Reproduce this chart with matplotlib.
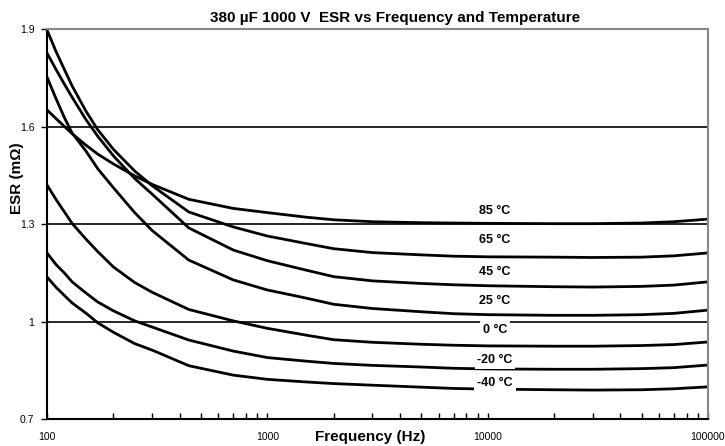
import numpy as np
import matplotlib
matplotlib.use('Agg')
import matplotlib.pyplot as plt
from matplotlib.ticker import LogLocator, FixedLocator, NullFormatter

plt.rcParams['font.family'] = ['Liberation Sans', 'DejaVu Sans']

#%% data
freq = [100, 110, 120, 130, 150, 170, 200, 250, 300, 440, 700, 1000, 1500, 2000,
        3000, 5000, 7000, 10000, 20000, 30000, 50000, 70000, 100000]

esr_85 = [1.651, 1.624, 1.600, 1.578, 1.543, 1.515, 1.485, 1.448, 1.422, 1.376, 1.348, 1.335,
          1.321, 1.313, 1.307, 1.304, 1.303, 1.302, 1.301, 1.301, 1.303, 1.307, 1.315]
esr_65 = [1.897, 1.830, 1.775, 1.725, 1.648, 1.590, 1.530, 1.463, 1.418, 1.337, 1.291, 1.263,
          1.240, 1.224, 1.212, 1.205, 1.201, 1.199, 1.198, 1.197, 1.198, 1.202, 1.211]
esr_45 = [1.826, 1.775, 1.730, 1.690, 1.622, 1.570, 1.510, 1.440, 1.392, 1.288, 1.220, 1.187,
          1.158, 1.138, 1.125, 1.117, 1.113, 1.110, 1.107, 1.106, 1.108, 1.112, 1.122]
esr_25 = [1.752, 1.685, 1.627, 1.580, 1.525, 1.470, 1.412, 1.335, 1.280, 1.189, 1.128, 1.097,
          1.072, 1.053, 1.040, 1.030, 1.024, 1.021, 1.019, 1.019, 1.021, 1.025, 1.035]
esr_0 = [1.420, 1.375, 1.337, 1.302, 1.254, 1.215, 1.168, 1.120, 1.090, 1.037, 1.002, 0.979,
         0.958, 0.944, 0.936, 0.930, 0.927, 0.925, 0.924, 0.924, 0.926, 0.929, 0.937]
esr_m20 = [1.211, 1.175, 1.149, 1.122, 1.088, 1.060, 1.033, 1.002, 0.983, 0.943, 0.909, 0.889,
           0.878, 0.871, 0.865, 0.860, 0.856, 0.854, 0.853, 0.853, 0.855, 0.858, 0.866]
esr_m40 = [1.137, 1.105, 1.080, 1.057, 1.026, 0.996, 0.967, 0.932, 0.912, 0.864, 0.835, 0.822,
           0.814, 0.809, 0.804, 0.798, 0.794, 0.792, 0.790, 0.789, 0.790, 0.793, 0.799]

curves = [esr_85, esr_65, esr_45, esr_25, esr_0, esr_m20, esr_m40]
labels = ['85 °C', '65 °C', '45 °C', '25 °C', '0 °C', '-20 °C', '-40 °C']
label_y = [1.340, 1.251, 1.152, 1.063, 0.974, 0.882, 0.811]
label_f = 10800

y_ticks = [0.7, 1.0, 1.3, 1.6, 1.9]
y_tick_labels = ['0.7', '1', '1.3', '1.6', '1.9']
x_ticks = [100, 1000, 10000, 100000]
x_tick_labels = ['100', '1000', '10000', '100000']

#%% figure
fig = plt.figure(figsize=(7.25, 4.46), dpi=100)
ax = fig.add_axes([47/725, 1-419/446, (708-47)/725, (419-29)/446])

for yv in [1.0, 1.3, 1.6]:
    ax.axhline(yv, color='black', lw=1.2, zorder=1)

for c in curves:
    ax.plot(freq, c, color='black', lw=2.0, zorder=2, solid_joinstyle='round')

for lab, ly in zip(labels, label_y):
    ax.text(label_f, ly, lab, ha='center', va='center', fontsize=9, fontweight='bold',
            zorder=3, bbox=dict(facecolor='white', edgecolor='none', pad=2.0))

ax.set_xscale('log')
ax.set_xlim(100, 100000)
ax.set_ylim(0.7, 1.9)

ax.yaxis.set_major_locator(FixedLocator(y_ticks))
ax.set_yticklabels(y_tick_labels, fontsize=7.5)
ax.tick_params(axis='y', direction='out', length=4, width=1, pad=5)

ax.xaxis.set_major_locator(FixedLocator(x_ticks))
ax.set_xticklabels(x_tick_labels, fontsize=7.5)
ax.xaxis.set_minor_locator(LogLocator(base=10, subs=np.arange(2, 10)))
ax.xaxis.set_minor_formatter(NullFormatter())
ax.tick_params(axis='x', which='both', direction='in', length=4, width=1, pad=9)

for s in ['left', 'bottom']:
    ax.spines[s].set_color('black')
    ax.spines[s].set_linewidth(1.5)
for s in ['top', 'right']:
    ax.spines[s].set_color('#888888')
    ax.spines[s].set_linewidth(1.5)

fig.text(395/725, 1-18/446, '380 µF 1000 V  ESR vs Frequency and Temperature',
         ha='center', va='center', fontsize=11, fontweight='bold')
fig.text(370/725, 1-437/446, 'Frequency (Hz)', ha='center', va='center',
         fontsize=11, fontweight='bold')
fig.text(17/725, 1-178/446, 'ESR (mΩ)', ha='center', va='center', rotation=90,
         fontsize=11, fontweight='bold')

fig.savefig('out.png', dpi=100)
